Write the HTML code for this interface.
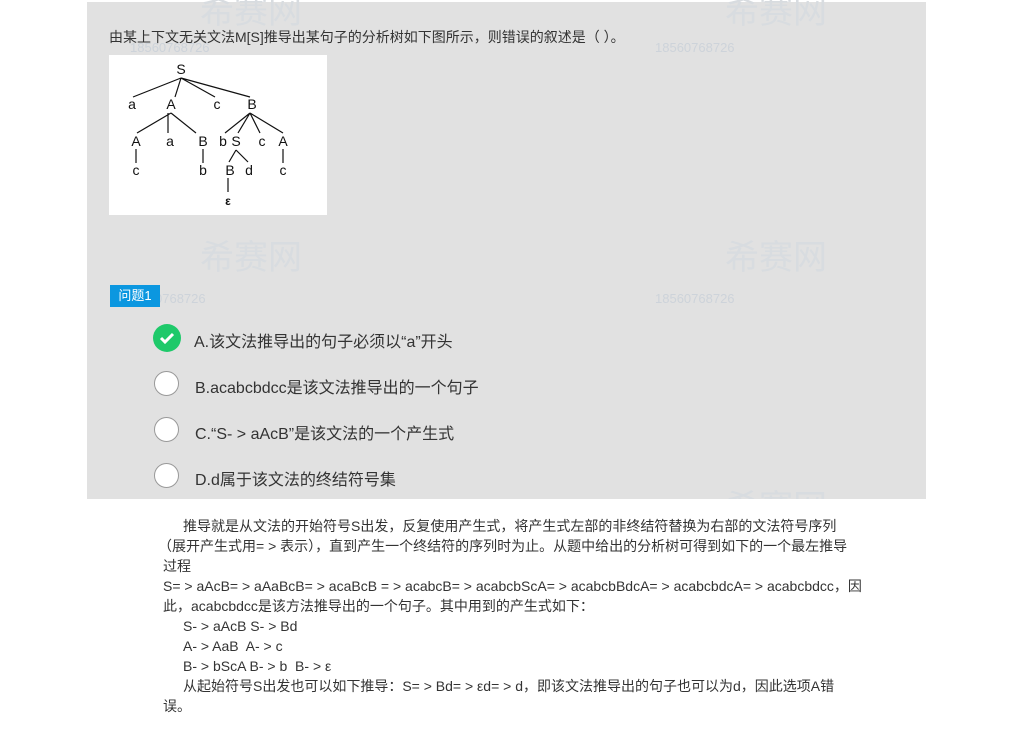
<!DOCTYPE html>
<html><head><meta charset="utf-8"><style>
body{margin:0;width:1033px;height:731px;background:#fff;position:relative;overflow:hidden;font-family:"Liberation Sans","Noto Sans CJK SC",sans-serif;color:#333}
.panel{position:absolute;left:87px;top:2px;width:839px;height:497px;background:#e1e1e1}
.abs{position:absolute;white-space:nowrap}
.wm{position:absolute;color:#cdd3da;font-size:13px}
.opt{position:absolute;left:154px;font-size:16px;color:#333}
.opt .c{position:absolute;left:0;top:0;width:25px;height:25px;border-radius:50%;background:#fff;border:1px solid #999;box-sizing:border-box}
.opt span{position:absolute;left:41px;top:3px;white-space:nowrap}
.ex{position:absolute;left:163px;font-size:14px;line-height:20px;white-space:nowrap;color:#333}
</style></head><body>
<div class="panel"></div>
<div class="wm" style="left:130px;top:40px">18560768726</div>
<div class="wm" style="left:655px;top:40px">18560768726</div>
<div class="wm" style="left:655px;top:291px">18560768726</div>
<div class="wm" style="left:155px;top:291px">0768726</div>
<div class="abs" style="left:200px;top:230px;font-size:34px;color:#d8dce0">希赛网</div>
<div class="abs" style="left:725px;top:230px;font-size:34px;color:#d8dce0">希赛网</div>
<div class="abs" style="left:725px;top:-16px;font-size:34px;color:#d8dce0">希赛网</div>
<div class="abs" style="left:200px;top:-16px;font-size:34px;color:#d8dce0">希赛网</div>
<div class="abs" style="left:725px;top:480px;font-size:34px;color:#d8dce0;height:19px;overflow:hidden">希赛网</div>
<div class="abs" style="left:109px;top:27px;font-size:14px">由某上下文无关文法M[S]推导出某句子的分析树如下图所示，则错误的叙述是（ ）。</div>
<svg class="abs" style="left:0;top:0" width="1033" height="731">
<rect x="109" y="55" width="218" height="160" fill="#fff"/>
<g stroke="#111" stroke-width="1.2" fill="none">
<path d="M181 78L133 97M181 78L175 97M181 78L215 97M181 78L250 97"/>
<path d="M171 113L137 133M168 113L168 133M171 113L196 133"/>
<path d="M250 113L225 133M250 113L238 133M250 113L260 133M250 113L283 133"/>
<path d="M136 149V163M203 149V163M283 149V163M228 178V192M236 150L229 162M236 150L248 162"/>
</g>
<g font-family="Liberation Sans" font-size="14" fill="#111" text-anchor="middle">
<text x="181" y="74">S</text>
<text x="132" y="109">a</text><text x="171" y="109">A</text><text x="217" y="109">c</text><text x="252" y="109">B</text>
<text x="136" y="146">A</text><text x="170" y="146">a</text><text x="203" y="146">B</text><text x="223" y="146">b</text><text x="236" y="146">S</text><text x="262" y="146">c</text><text x="283" y="146">A</text>
<text x="136" y="175">c</text><text x="203" y="175">b</text><text x="230" y="175">B</text><text x="249" y="175">d</text><text x="283" y="175">c</text>
<text x="228" y="205" font-weight="bold" font-size="12">ε</text>
</g>
</svg>
<div class="abs" style="left:110px;top:285px;width:50px;height:22px;background:#0b97e0;color:#fff;font-size:13px;line-height:22px;text-align:center">问题1</div>
<div class="opt" style="top:325px"><div class="c" style="background:#1ec96a;border:none;width:28px;height:28px;left:-1px;top:-1px"><svg width="28" height="28"><path d="M8 14l4 4 8-8" stroke="#fff" stroke-width="3" fill="none"/></svg></div><span style="left:40px">A.该文法推导出的句子必须以“a”开头</span></div>
<div class="opt" style="top:371px"><div class="c"></div><span>B.acabcbdcc是该文法推导出的一个句子</span></div>
<div class="opt" style="top:417px"><div class="c"></div><span>C.“S- &gt; aAcB”是该文法的一个产生式</span></div>
<div class="opt" style="top:463px"><div class="c"></div><span>D.d属于该文法的终结符号集</span></div>
<div class="ex" style="top:516px;padding-left:20px">推导就是从文法的开始符号S出发，反复使用产生式，将产生式左部的非终结符替换为右部的文法符号序列</div>
<div class="ex" style="top:536px;left:158px">（展开产生式用= &gt; 表示），直到产生一个终结符的序列时为止。从题中给出的分析树可得到如下的一个最左推导</div>
<div class="ex" style="top:556px">过程</div>
<div class="ex" style="top:576px">S= &gt; aAcB= &gt; aAaBcB= &gt; acaBcB = &gt; acabcB= &gt; acabcbScA= &gt; acabcbBdcA= &gt; acabcbdcA= &gt; acabcbdcc，因</div>
<div class="ex" style="top:596px">此，acabcbdcc是该方法推导出的一个句子。其中用到的产生式如下：</div>
<div class="ex" style="top:616px;padding-left:20px">S- &gt; aAcB S- &gt; Bd</div>
<div class="ex" style="top:636px;padding-left:20px">A- &gt; AaB&nbsp; A- &gt; c</div>
<div class="ex" style="top:656px;padding-left:20px">B- &gt; bScA B- &gt; b&nbsp; B- &gt; ε</div>
<div class="ex" style="top:676px;padding-left:20px">从起始符号S出发也可以如下推导：S= &gt; Bd= &gt; εd= &gt; d，即该文法推导出的句子也可以为d，因此选项A错</div>
<div class="ex" style="top:696px">误。</div>
</body></html>
